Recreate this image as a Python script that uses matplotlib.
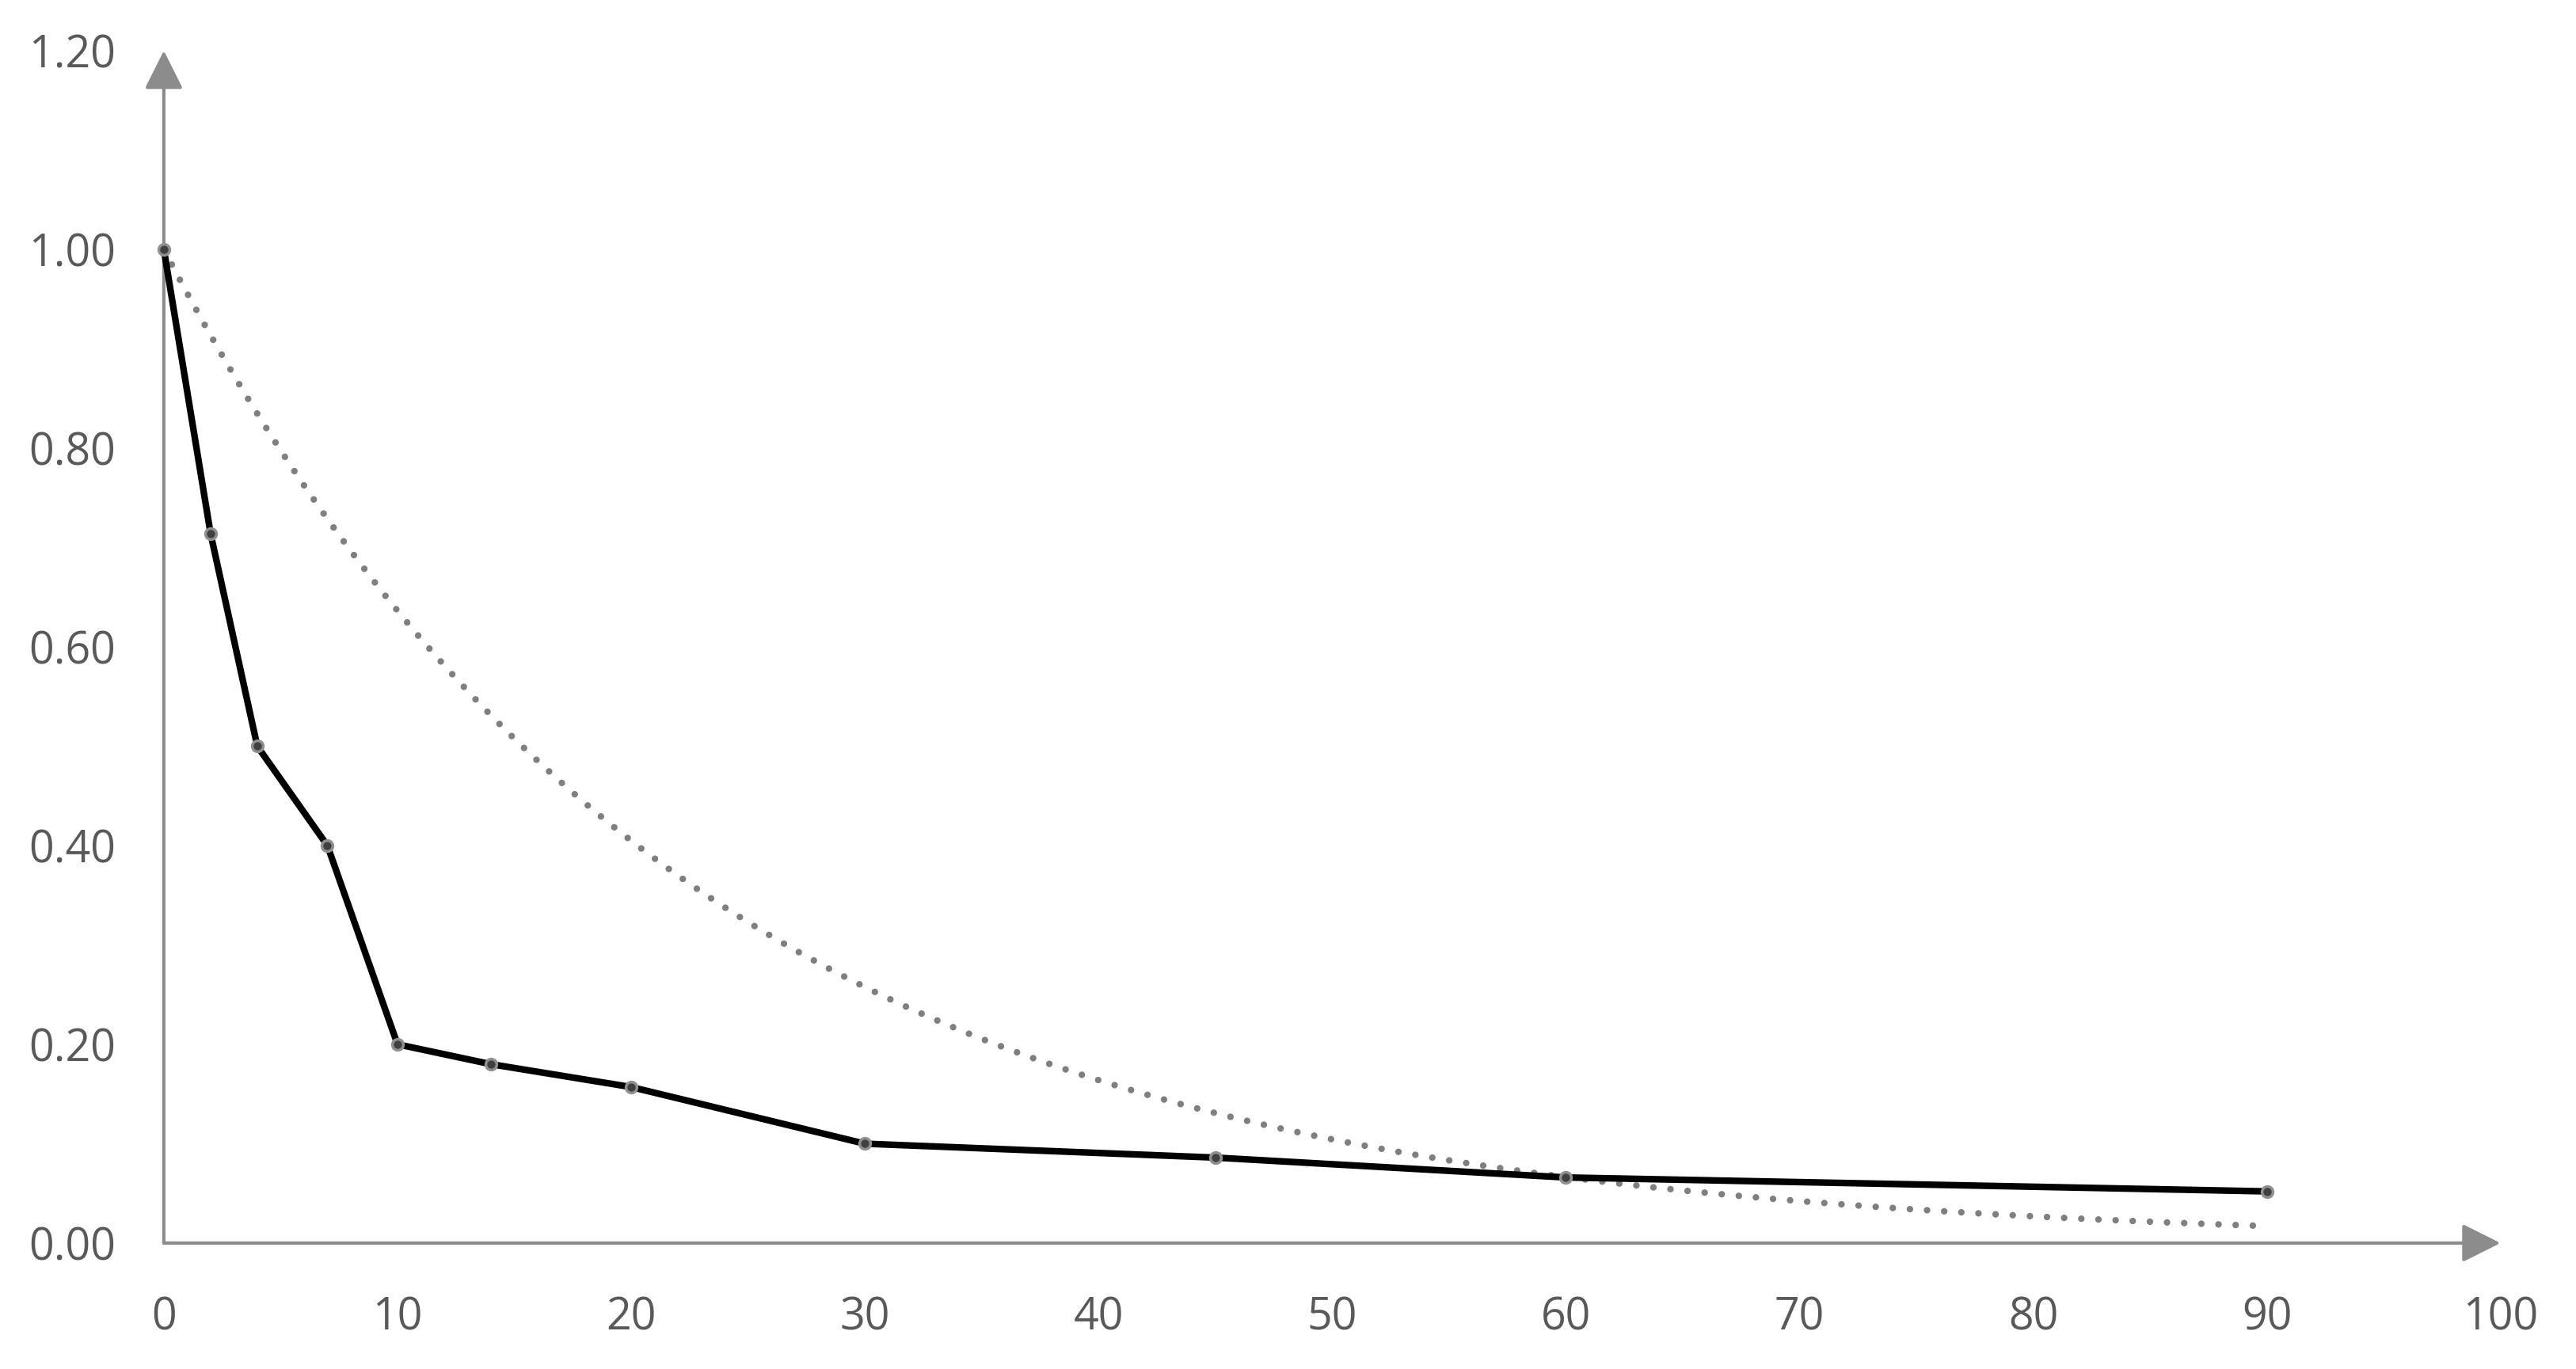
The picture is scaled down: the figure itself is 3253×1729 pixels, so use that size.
import numpy as np
import matplotlib.pyplot as plt

# данные
days = [0, 2, 4, 7, 10, 14, 20, 30, 45, 60, 90]
share = [1.0, 0.714, 0.5, 0.4, 0.2, 0.18, 0.157, 0.1, 0.086, 0.066, 0.052]
x_ticks = [0, 10, 20, 30, 40, 50, 60, 70, 80, 90, 100]
y_ticks = [0.0, 0.2, 0.4, 0.6, 0.8, 1.0, 1.2]

# экспоненциальный тренд с пересечением в 1 (как в Excel)
xd = np.array(days, dtype=float)
yd = np.array(share)
b = np.sum(xd * np.log(yd)) / np.sum(xd ** 2)
xt = np.linspace(0, max(days), 300)
yt = np.exp(b * xt)

plt.rcParams['font.family'] = ['Open Sans', 'DejaVu Sans']
axis_col = '#8c8c8c'
text_col = '#595959'

fig = plt.figure(figsize=(32.53, 17.29), dpi=100)
ax = fig.add_axes([0.0636, 0.092, 0.9071, 0.871])

ax.plot(xt, yt, color='#7f7f7f', lw=6, linestyle=(0, (0.001, 2.6)),
        dash_capstyle='round', clip_on=False, zorder=2)
ax.plot(days, share, color='black', lw=6, marker='o', markersize=10,
        markerfacecolor='#404040', markeredgecolor='#909090',
        markeredgewidth=2.5, clip_on=False, zorder=3)

ax.set_xlim(0, 100)
ax.set_ylim(0, 1.2)
ax.set_xticks(x_ticks)
ax.set_yticks(y_ticks)
ax.set_xticklabels([str(t) for t in x_ticks])
ax.set_yticklabels([f'{t:.2f}' for t in y_ticks])
ax.tick_params(length=0, labelsize=40, colors=text_col)
ax.tick_params(axis='x', pad=48)
ax.tick_params(axis='y', pad=44)

for s in ax.spines.values():
    s.set_visible(False)

# оси со стрелками
arrow = dict(arrowstyle='-|>,head_length=0.6,head_width=0.3', mutation_scale=50,
             color=axis_col, lw=3, shrinkA=0, shrinkB=0)
ax.annotate('', xy=(1, 0), xytext=(0, 0), xycoords='axes fraction',
            textcoords='axes fraction', arrowprops=arrow, zorder=1)
ax.annotate('', xy=(0, 1), xytext=(0, 0), xycoords='axes fraction',
            textcoords='axes fraction', arrowprops=arrow, zorder=1)

fig.savefig('out.png', dpi=100, facecolor='white')
